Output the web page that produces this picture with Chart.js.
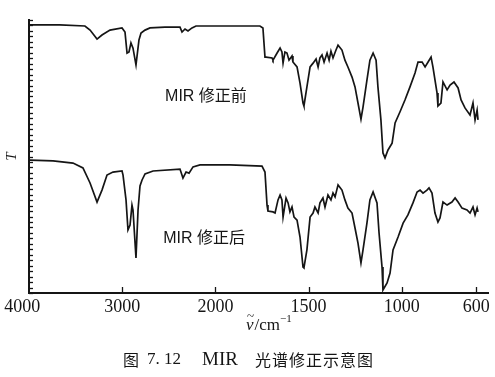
<!DOCTYPE html>
<html>
<head>
<meta charset="utf-8">
<script src="https://cdn.jsdelivr.net/npm/chart.js@4.4.0/dist/chart.umd.min.js"></script>
<style>
  html, body { margin: 0; padding: 0; background: #fff; }
  #wrap { width: 495px; height: 377px; }
</style>
</head>
<body>
<div id="wrap"><canvas id="chart" width="495" height="377"></canvas></div>
<script>
const tickWavenumbers = [4000, 3000, 2000, 1500, 1000, 600];

const beforeWavenumbers = [3990, 3670, 3400, 3345, 3270, 3217, 3131, 3002, 2970, 2948, 2927, 2906, 2884, 2852, 2820, 2798, 2755, 2702, 2541, 2380,
  2358, 2326, 2294, 2251, 2208, 1922, 1761, 1745, 1734, 1728, 1696, 1691, 1669, 1653, 1643, 1637, 1627, 1616, 1605, 1589,
  1584, 1562, 1546, 1530, 1525, 1509, 1492, 1476, 1460, 1449, 1439, 1428, 1417, 1401, 1390, 1380, 1369, 1353, 1342, 1321,
  1305, 1289, 1267, 1251, 1235, 1219, 1208, 1187, 1171, 1154, 1138, 1128, 1112, 1101, 1090, 1074, 1052, 1036, 1010, 983,
  956, 929, 913, 891, 875, 859, 843, 833, 811, 806, 790, 779, 757, 741, 720, 698, 682, 661, 634, 618, 607, 596, 591];
const beforeT = [98.2, 98.2, 97.8, 96.3, 93.0, 94.5, 96.3, 97.1, 95.6, 87.9, 88.3, 91.6, 89.7, 83.5, 92.7, 95.2, 96.3, 97.1, 97.4, 97.4,
  95.6, 96.7, 96.0, 97.1, 97.8, 97.8, 97.8, 97.1, 86.4, 86.4, 86.1, 85.3, 87.9, 89.7, 88.3, 84.2, 88.3, 87.9, 85.3, 86.8,
  84.6, 82.8, 76.9, 69.6, 68.5, 75.5, 82.8, 84.2, 85.7, 82.8, 86.1, 87.2, 84.6, 87.9, 85.3, 88.6, 86.1, 89.0, 90.8, 89.0,
  85.3, 82.8, 79.1, 75.5, 69.6, 63.7, 68.1, 78.0, 85.3, 87.9, 85.3, 75.5, 63.4, 51.3, 49.5, 52.4, 54.9, 62.3, 66.3, 70.7,
  75.5, 80.6, 84.6, 84.6, 82.8, 84.6, 86.4, 82.8, 73.3, 68.5, 69.6, 77.3, 74.4, 76.2, 77.3, 75.1, 70.7, 67.8, 65.2, 69.6, 63.4, 67.0, 63.4];

const afterWavenumbers = [3990, 3742, 3528, 3421, 3345, 3270, 3217, 3163, 3099, 3002, 2991, 2959, 2938, 2916, 2895, 2884, 2852, 2830, 2809, 2787,
  2755, 2669, 2380, 2348, 2315, 2283, 2240, 2165, 1922, 1750, 1734, 1723, 1718, 1691, 1680, 1664, 1653, 1643, 1637, 1621,
  1610, 1600, 1589, 1578, 1562, 1546, 1530, 1525, 1509, 1492, 1476, 1466, 1449, 1439, 1423, 1412, 1396, 1380, 1369, 1358,
  1342, 1321, 1305, 1289, 1267, 1251, 1235, 1219, 1208, 1187, 1171, 1154, 1133, 1122, 1106, 1101, 1079, 1063, 1047, 1020,
  993, 967, 940, 918, 902, 886, 865, 854, 838, 822, 806, 795, 779, 757, 731, 714, 698, 677, 650, 634, 618, 607, 596, 591];
const afterT = [48.7, 48.4, 47.6, 45.8, 40.3, 33.3, 37.7, 43.2, 44.3, 44.7, 43.2, 34.1, 23.1, 24.9, 32.2, 30.4, 12.8, 30.4, 39.2, 41.4,
  43.6, 44.7, 45.4, 42.1, 44.3, 43.9, 46.2, 46.9, 46.9, 46.5, 44.3, 32.2, 30.0, 29.7, 29.3, 34.1, 35.9, 34.1, 27.8, 34.8,
  33.0, 29.7, 31.5, 27.8, 26.7, 20.5, 9.5, 9.2, 15.8, 27.8, 29.3, 31.5, 29.3, 33.0, 34.8, 31.5, 35.9, 34.1, 36.6, 35.2,
  39.6, 37.7, 34.1, 31.1, 29.3, 23.8, 18.3, 11.0, 15.8, 25.6, 34.1, 37.0, 33.0, 22.0, 9.5, 1.1, 3.7, 7.3, 15.8, 20.5,
  25.6, 28.6, 33.0, 37.0, 37.7, 36.6, 37.7, 38.5, 36.6, 29.3, 26.0, 27.5, 33.3, 32.2, 33.3, 34.8, 33.3, 31.1, 30.4, 29.3, 31.5, 28.6, 31.1, 29.7];

const seriesNames = ['MIR 修正前', 'MIR 修正后'];

// the spectrometer chart paper doubles its scale below 2000 cm-1
function toAxis(nu) {
    return nu >= 2000 ? 4000 - nu : 2000 + (2000 - nu) * 2;
}

function toPoints(nus, ts) {
    return nus.map((nu, i) => ({ x: toAxis(nu), y: ts[i] }));
}

const ink = '#151515';

const decorations = {
    id: 'decorations',
    afterDatasetsDraw(chart) {
        const { ctx, chartArea, scales: { x, y } } = chart;
        ctx.save();
        ctx.strokeStyle = ink;
        ctx.lineWidth = 1.3;

        // inward ticks on T axis
        y.ticks.forEach(t => {
            const py = Math.round(y.getPixelForValue(t.value)) + 0.5;
            ctx.beginPath();
            ctx.moveTo(chartArea.left, py);
            ctx.lineTo(chartArea.left + 4, py);
            ctx.stroke();
        });
        // inward ticks on wavenumber axis
        x.ticks.forEach((t, i) => {
            if (i === 0) return;
            const px = Math.round(x.getPixelForValue(t.value)) + 0.5;
            ctx.beginPath();
            ctx.moveTo(px, chartArea.bottom);
            ctx.lineTo(px, chartArea.bottom - 6);
            ctx.stroke();
        });

        ctx.fillStyle = ink;
        ctx.textBaseline = 'middle';
        ctx.textAlign = 'left';
        ctx.font = '16px "Liberation Sans", "Noto Sans CJK SC"';
        ctx.fillText(seriesNames[0], x.getPixelForValue(toAxis(2540)), y.getPixelForValue(71.8));
        ctx.fillText(seriesNames[1], x.getPixelForValue(toAxis(2560)), y.getPixelForValue(20.1));

        // axis title  ν̃/cm-1
        let tx = 246, ty = 326;
        ctx.font = 'italic 17px "Liberation Serif"';
        ctx.fillText('ν', tx, ty);
        const nuW = ctx.measureText('ν').width;
        ctx.font = '13px "Liberation Serif"';
        ctx.fillText('~', tx + 1, ty - 9);
        tx += nuW + 1;
        ctx.font = '17px "Liberation Serif"';
        ctx.fillText('/cm', tx, ty);
        tx += ctx.measureText('/cm').width;
        ctx.font = '11px "Liberation Serif"';
        ctx.fillText('−1', tx, ty - 7);

        // caption
        const cy = 360;
        ctx.font = '16px "Noto Sans CJK SC"';
        ctx.fillText('图', 123, cy);
        ctx.font = '17px "Liberation Serif"';
        ctx.fillText('7. 12', 147, cy);
        ctx.font = '19px "Liberation Serif"';
        ctx.fillText('MIR', 202, cy);
        ctx.font = '16px "Noto Sans CJK SC"';
        ctx.letterSpacing = '1px';
        ctx.fillText('光谱修正示意图', 255, cy);
        ctx.restore();
    }
};

new Chart(document.getElementById('chart'), {
    type: 'line',
    data: {
        datasets: [
            { label: seriesNames[0], data: toPoints(beforeWavenumbers, beforeT) },
            { label: seriesNames[1], data: toPoints(afterWavenumbers, afterT) }
        ]
    },
    options: {
        responsive: false,
        animation: false,
        layout: { padding: { top: 20, right: 7, bottom: 0, left: 0 } },
        elements: {
            line: { borderColor: ink, borderWidth: 1.7, tension: 0 },
            point: { radius: 0 }
        },
        plugins: { legend: { display: false }, tooltip: { enabled: false } },
        scales: {
            x: {
                type: 'linear',
                min: 0,
                max: 4925,
                border: { color: ink, width: 2 },
                grid: { display: false, drawTicks: false },
                afterBuildTicks: s => { s.ticks = tickWavenumbers.map(n => ({ value: toAxis(n) })); },
                afterFit: s => { s.height = 84; },
                ticks: {
                    autoSkip: false,
                    maxRotation: 0,
                    padding: 3,
                    color: ink,
                    font: { family: '"Liberation Serif"', size: 18 },
                    // first label sits a little left of the axis corner in the print
                    callback: (v, i) => i === 0 ? tickWavenumbers[i] + '   ' : String(tickWavenumbers[i])
                }
            },
            y: {
                min: 0,
                max: 100,
                border: { color: ink, width: 2 },
                grid: { display: false, drawTicks: false },
                afterFit: s => { s.width = 29; },
                ticks: { display: false, stepSize: 2 },
                title: {
                    display: true,
                    text: 'T',
                    color: ink,
                    padding: { top: 3, bottom: 0 },
                    font: { family: '"Liberation Serif"', style: 'italic', size: 15 }
                }
            }
        }
    },
    plugins: [decorations]
});
</script>
</body>
</html>
